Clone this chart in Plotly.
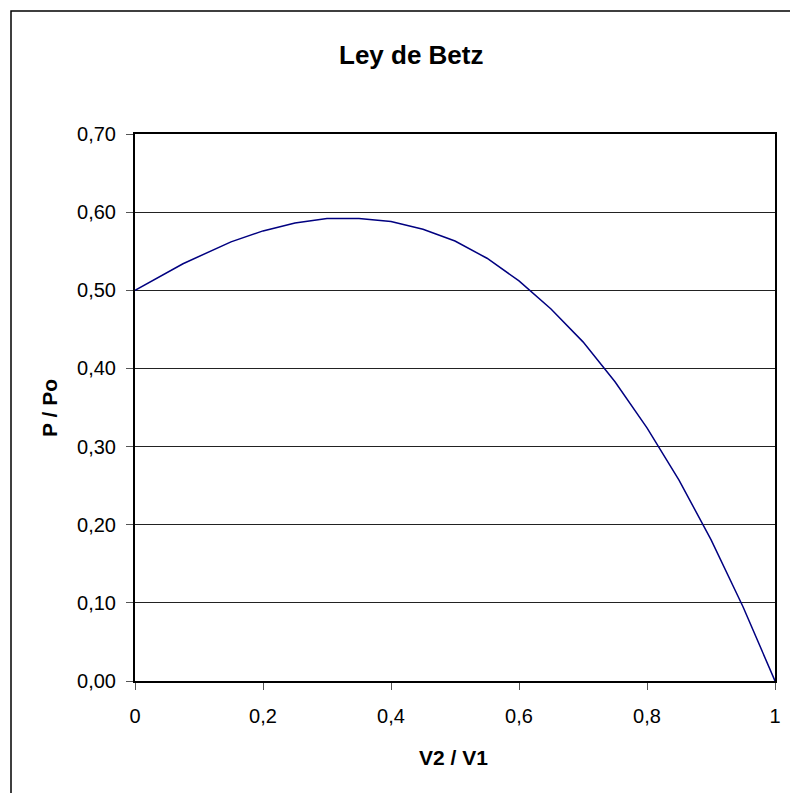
import plotly.graph_objects as go

# Ley de Betz: P/Po versus V2/V1
v2_v1 = [0, 0.075, 0.15, 0.2, 0.25, 0.3, 0.35, 0.4, 0.45, 0.5, 0.55,
         0.6, 0.65, 0.7, 0.75, 0.8, 0.85, 0.9, 0.95, 1.0]
p_po = [0.500, 0.534, 0.562, 0.576, 0.586, 0.592, 0.592, 0.588, 0.578, 0.563,
        0.541, 0.512, 0.476, 0.434, 0.383, 0.324, 0.257, 0.181, 0.095, 0.000]

x_ticks = [0, 0.2, 0.4, 0.6, 0.8, 1.0]
y_ticks = [0, 0.1, 0.2, 0.3, 0.4, 0.5, 0.6, 0.7]

font = "Liberation Sans, Arial, sans-serif"

fig = go.Figure()
fig.add_trace(go.Scatter(x=v2_v1, y=p_po, mode="lines",
                         line=dict(color="#000080", width=1.5),
                         showlegend=False))

# the page body has an 8px margin, so work in page pixels and shift
OFF = 8
FW, FH = 798 - OFF, 793 - OFF
# plot area in page pixels: x 135..775, y 134..681
L, R, T, B = 135 - OFF, 23, 134 - OFF, 112
W, H = FW - L - R, FH - T - B


def px(x):
    return (x - OFF - L) / W


def py(y):
    return (FH - B - (y - OFF)) / H


def label(text, x, y, size, angle=0):
    return dict(text=text, xref="paper", yref="paper", x=px(x), y=py(y),
                xanchor="center", yanchor="middle", showarrow=False,
                textangle=angle, font=dict(family=font, size=size))


fig.update_layout(
    width=FW, height=FH,
    margin=dict(l=L, r=R, t=T, b=B, pad=0),
    paper_bgcolor="white", plot_bgcolor="white",
    separators=",.",
    font=dict(family=font, size=20, color="black"),
    xaxis=dict(range=[0, 1], tickvals=x_ticks, showgrid=False,
               showline=True, linecolor="black", linewidth=2, mirror=True,
               ticks="outside", ticklen=7, tickcolor="#555", tickwidth=1,
               zeroline=False, ticklabelstandoff=9),
    yaxis=dict(range=[0, 0.7], tickvals=y_ticks, tickformat=".2f",
               showgrid=True, gridcolor="#222", gridwidth=1,
               showline=True, linecolor="black", linewidth=2, mirror=True,
               ticks="outside", ticklen=7, tickcolor="#555", tickwidth=1,
               zeroline=False, ticklabelstandoff=6),
    shapes=[dict(type="rect", xref="paper", yref="paper",
                 x0=px(11), x1=px(830), y0=py(830), y1=py(11),
                 line=dict(color="black", width=1.5), layer="below")],
    annotations=[
        label("<b>Ley de Betz</b>", 411, 55, 26),
        label("<b>V2 / V1</b>", 453, 757, 21),
        label("<b>P / Po</b>", 49, 408, 21, -90),
    ],
)

fig.write_html("out.html")
